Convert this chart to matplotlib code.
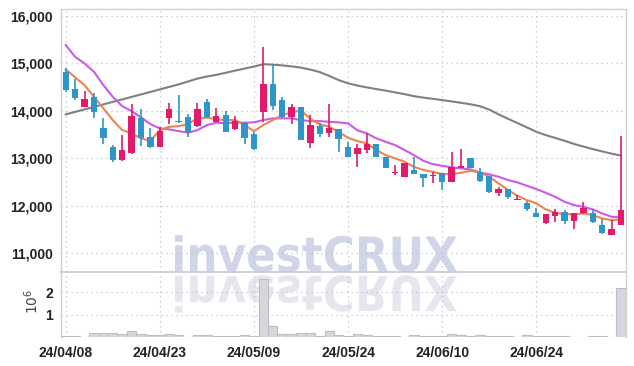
import matplotlib
matplotlib.use("Agg")
import matplotlib.pyplot as plt
import numpy as np
from matplotlib.textpath import TextPath
from matplotlib.patches import PathPatch
from matplotlib.font_manager import FontProperties
from matplotlib.transforms import Affine2D

dates = ["24/04/08","24/04/09","24/04/11","24/04/12","24/04/15","24/04/16","24/04/17","24/04/18","24/04/19","24/04/22",
         "24/04/23","24/04/24","24/04/25","24/04/26","24/04/29","24/04/30","24/05/02","24/05/03","24/05/07","24/05/08",
         "24/05/09","24/05/10","24/05/13","24/05/14","24/05/16","24/05/17","24/05/20","24/05/21","24/05/22","24/05/23",
         "24/05/24","24/05/27","24/05/28","24/05/29","24/05/30","24/05/31","24/06/03","24/06/04","24/06/05","24/06/07",
         "24/06/10","24/06/11","24/06/12","24/06/13","24/06/14","24/06/17","24/06/18","24/06/19","24/06/20","24/06/21",
         "24/06/24","24/06/25","24/06/26","24/06/27","24/06/28","24/07/01","24/07/02","24/07/03","24/07/04","24/07/05"]

opens  = [14820,14460,14090,14300,13640,13240,12960,13120,13840,13450,13240,13840,13780,13870,13690,14180,13770,13910,13610,13740,
          13510,13970,14560,14230,13880,14080,13330,13690,13540,13610,13240,13100,13170,13300,13020,12690,12610,12750,12670,12620,
          12680,12500,12800,13000,12700,12620,12260,12350,12120,12060,11850,11630,11790,11860,11680,11840,11840,11600,11380,11590]
highs  = [14900,14680,14420,14370,13840,13290,13500,14140,14030,13640,13660,14160,14330,13930,14170,14260,14070,14000,13890,13770,
          13560,15350,14990,14300,14140,14090,13910,13740,14140,13610,13350,13310,13540,13310,13030,12860,12890,13030,12670,12720,
          12680,13140,13190,13000,12800,12630,12400,12350,12220,12100,11960,11830,11920,11910,11840,12080,11930,11710,11700,13470]
lows   = [14400,14230,14080,13860,13310,12930,12950,13100,13260,13210,13240,13720,13750,13450,13660,13850,13760,13550,13600,13310,
          13170,13770,14020,13850,13720,13380,13210,13450,13450,13140,13030,12810,13120,13030,12800,12640,12610,12660,12400,12470,
          12340,12500,12800,12790,12500,12260,12200,12150,12110,11890,11760,11620,11660,11610,11500,11830,11630,11400,11380,11590]
closes = [14440,14280,14250,13980,13430,12960,13170,13890,13430,13240,13570,14040,13760,13550,14040,13880,13890,13560,13780,13420,
          13190,14560,14110,13880,14090,13380,13700,13510,13640,13410,13030,13220,13310,13030,12800,12710,12890,12660,12580,12630,
          12500,12820,12840,12800,12520,12290,12350,12180,12140,11940,11770,11820,11870,11680,11840,11950,11660,11430,11500,11900]
volumes = [0.08,0.08,0.03,0.19,0.19,0.19,0.14,0.28,0.15,0.11,0.11,0.15,0.11,0.03,0.11,0.11,0.06,0.04,0.04,0.10,
           0.08,2.60,0.50,0.15,0.15,0.20,0.20,0.07,0.30,0.10,0.07,0.15,0.10,0.04,0.04,0.05,0.03,0.10,0.04,0.04,
           0.05,0.15,0.11,0.06,0.11,0.05,0.05,0.04,0.03,0.10,0.06,0.06,0.06,0.04,0.03,0.02,0.06,0.06,0.03,2.20]
ma_short = [14875,14707,14544,14297,14053,13806,13595,13525,13420,13369,13595,13664,13679,13721,13848,13855,13827,13806,13806,13700,
            13573,13700,13806,13911,13970,14010,13830,13715,13664,13559,13432,13363,13314,13173,13067,12998,12926,12820,12751,12715,
            12666,12660,12694,12736,12702,12610,12470,12329,12209,12118,12048,11922,11850,11822,11816,11836,11801,11731,11696,11710]
ma_mid = [15388,15141,15000,14825,14544,14297,14101,13996,13863,13721,13630,13609,13573,13540,13595,13700,13750,13736,13757,13750,
          13757,13806,13842,13842,13842,13806,13784,13784,13770,13757,13736,13590,13525,13420,13348,13278,13173,13067,12947,12877,
          12841,12808,12786,12765,12702,12660,12610,12540,12491,12420,12350,12272,12187,12082,12012,11976,11922,11836,11765,11751]
ma_long = [13926,13979,14031,14084,14137,14190,14242,14295,14348,14400,14453,14506,14559,14620,14682,14725,14760,14804,14850,14892,
           14935,14985,14975,14960,14939,14913,14871,14818,14738,14650,14582,14534,14496,14460,14428,14390,14354,14310,14280,14255,
           14228,14200,14171,14139,14100,14027,13926,13833,13742,13652,13559,13489,13430,13369,13303,13247,13194,13145,13098,13056]
price_ticks = [11000, 12000, 13000, 14000, 15000, 16000]
price_tick_labels = ["11,000", "12,000", "13,000", "14,000", "15,000", "16,000"]
vol_ticks = [1e6, 2e6]
vol_tick_labels = ["1", "2"]
date_tick_step = 10

plt.rcParams['font.family'] = ['Liberation Sans Narrow', 'Liberation Sans', 'DejaVu Sans']

W, H = 634, 366
fig = plt.figure(figsize=(W/100, H/100), dpi=100)
fig.patch.set_facecolor('white')

L, R = 61/W, 625.7/W
ax = fig.add_axes([L, 1-272/H, R-L, (272-9)/H])
axv = fig.add_axes([L, 1-337.4/H, R-L, (337.4-272)/H], sharex=ax)
for a in (ax, axv):
    a.set_facecolor('none')

RED = '#e3196b'
BLUE = '#2e96c8'
GRID = '#bcc0d8'
SPINE = '#cfd0d8'

x = np.arange(len(dates))
o = np.array(opens); c = np.array(closes); h = np.array(highs); l = np.array(lows)
up = c >= o
cols = np.where(up, RED, BLUE)
bottoms = np.minimum(o, c)
heights = np.maximum(np.abs(c - o), 22)

ax.vlines(x, l, h, colors=cols, linewidth=1.2, zorder=3)
ax.bar(x, heights, bottom=bottoms, width=0.68, color=cols, edgecolor='none', zorder=4)

ax.plot(x, ma_long, color='#808080', lw=1.5, zorder=2)
ax.plot(x, ma_mid, color='#cc5ae6', lw=1.5, zorder=2)
ax.plot(x, ma_short, color='#ef834f', lw=1.5, zorder=2)

axv.bar(x, np.array(volumes)*1e6, width=1.0, color='#d6d6dc', edgecolor='#bdbdc4', linewidth=0.8, zorder=3)

ax.set_xlim(-0.5, len(dates)-0.5)
ax.set_ylim(10600, 16150)
axv.set_ylim(0, 2.9e6)

tick_pos = x[::date_tick_step]
axv.set_xticks(tick_pos)
axv.set_xticklabels([dates[i] for i in tick_pos], fontsize=10, fontweight='bold', color='#222222')
ax.set_yticks(price_ticks)
ax.set_yticklabels(price_tick_labels, fontsize=10, fontweight='bold', color='#222222')
axv.set_yticks(vol_ticks)
axv.set_yticklabels(vol_tick_labels, fontsize=10, fontweight='bold', color='#222222')
plt.setp(ax.get_xticklabels(), visible=False)

for a in (ax, axv):
    a.tick_params(length=0, pad=6)
    a.grid(True, linestyle=(0, (1, 3)), color=GRID, linewidth=0.9)
    a.set_axisbelow(True)
    for s in ('left', 'right', 'top'):
        a.spines[s].set_color(SPINE)
        a.spines[s].set_linewidth(1.0)
ax.spines['bottom'].set_color('#c8c8cc')
ax.spines['bottom'].set_linewidth(1.2)
axv.spines['top'].set_visible(False)
axv.spines['bottom'].set_visible(False)

fig.text(32/W, 1-301/H, r'$10^6$', rotation=90, ha='center', va='center', fontsize=10, color='#444444',
         family='DejaVu Sans')

# watermark with reflection
fp = FontProperties(family='DejaVu Sans', weight='bold')
tp = TextPath((0, 0), "investCRUX", size=1, prop=fp)
ext = tp.get_extents()
x0, x1 = 175, 457
top_img, base_img = 235, 271.5
sx = (x1 - x0) / ext.width
sy = (base_img - top_img) / ext.y1
tr_main = Affine2D().translate(-ext.x0, 0).scale(sx, sy).translate(x0, H - base_img).scale(1/W, 1/H)
fig.add_artist(PathPatch(tr_main.transform_path(tp), facecolor='#d0d6e8', edgecolor='none',
                         transform=fig.transFigure, zorder=-1))
tr_ref = Affine2D().translate(-ext.x0, 0).scale(sx, -sy).translate(x0, H - 276).scale(1/W, 1/H)
fig.add_artist(PathPatch(tr_ref.transform_path(tp), facecolor='#e6e6ee', edgecolor='none',
                         transform=fig.transFigure, zorder=-1))

fig.savefig('out.png', dpi=100, facecolor='white')
